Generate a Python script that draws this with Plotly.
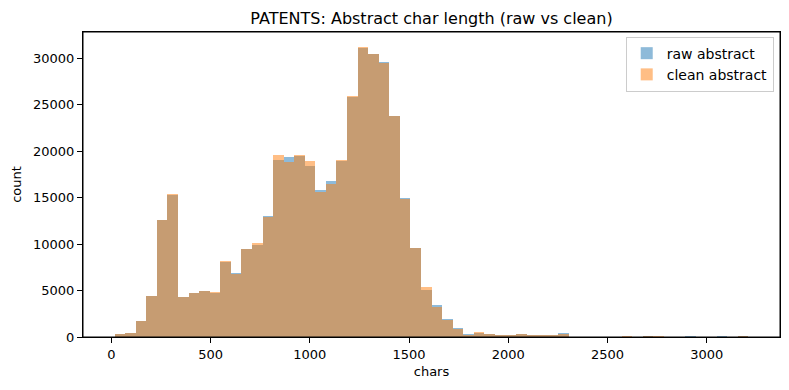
import numpy as np
import plotly.graph_objects as go

# Histogram bins (chars): 60 equal bins
bin_lo = 17.0
bin_hi = 3209.0
n_bins = 60

raw_counts = [320, 430, 1730, 4420, 12620, 15320, 4315, 4745, 4960, 4745,
              8090, 6905, 9490, 9925, 13050, 19090, 19415, 19520, 18445, 15855,
              16830, 18985, 25890, 31175, 30530, 29665, 23840, 14995, 9600, 5070,
              3450, 1900, 935, 320, 395, 320, 215, 110, 320, 215,
              110, 110, 430, 0, 0, 0, 0, 0, 0, 0,
              60, 0, 0, 0, 60, 0, 0, 60, 0, 60]
clean_counts = [320, 430, 1730, 4420, 12620, 15430, 4315, 4745, 4960, 4855,
                8200, 6795, 9490, 10140, 12945, 19630, 18875, 19630, 18985, 15640,
                16505, 19090, 25995, 31285, 30530, 29560, 23840, 14885, 9600, 5395,
                3235, 1800, 825, 215, 500, 320, 140, 110, 320, 215,
                110, 110, 320, 0, 0, 0, 0, 0, 60, 0,
                60, 60, 0, 0, 0, 0, 0, 0, 0, 60]

x_ticks = [0, 500, 1000, 1500, 2000, 2500, 3000]
y_ticks = [0, 5000, 10000, 15000, 20000, 25000, 30000]

edges = np.linspace(bin_lo, bin_hi, n_bins + 1)
centers = (edges[:-1] + edges[1:]) / 2
width = edges[1] - edges[0]

fig = go.Figure()
fig.add_trace(go.Bar(x=centers, y=raw_counts, width=width, name="raw abstract",
                     marker=dict(color="#1f77b4", line=dict(width=0)), opacity=0.5))
fig.add_trace(go.Bar(x=centers, y=clean_counts, width=width, name="clean abstract",
                     marker=dict(color="#ff7f0e", line=dict(width=0)), opacity=0.5))

span = bin_hi - bin_lo
ymax = max(max(raw_counts), max(clean_counts)) * 1.05

fig.update_layout(
    width=789, height=390,
    margin=dict(l=83, r=9, t=32, b=53, autoexpand=False),
    paper_bgcolor="white", plot_bgcolor="white",
    barmode="overlay", bargap=0,
    font=dict(family="DejaVu Sans", color="black"),
    title=dict(text="PATENTS: Abstract char length (raw vs clean)", x=0.5, xref="paper",
               y=1 - 18 / 390, yref="container", yanchor="middle",
               font=dict(size=16, color="black")),
    xaxis=dict(range=[bin_lo - 0.05 * span, bin_hi + 0.05 * span],
               tickmode="array", tickvals=x_ticks, ticktext=[str(v) for v in x_ticks],
               showline=True, linecolor="black", linewidth=1, mirror=True,
               ticks="outside", ticklen=5, tickcolor="black", showgrid=False,
               zeroline=False, automargin=False, tickfont=dict(size=13, color="black"),
               title=dict(text="chars", font=dict(size=13), standoff=6)),
    yaxis=dict(range=[0, ymax],
               tickmode="array", tickvals=y_ticks, ticktext=[str(v) for v in y_ticks],
               showline=True, linecolor="black", linewidth=1, mirror=True,
               ticks="outside", ticklen=5, tickcolor="black", showgrid=False,
               zeroline=False, automargin=False, tickfont=dict(size=13, color="black"),
               title=dict(text="count", font=dict(size=13), standoff=8)),
    legend=dict(x=0.991, y=0.985, xanchor="right", yanchor="top",
                bgcolor="rgba(255,255,255,0.8)", bordercolor="#cccccc", borderwidth=1,
                font=dict(size=14), tracegroupgap=0),
    showlegend=True,
    shapes=[dict(type="rect", xref="paper", yref="paper", x0=0, y0=0, x1=1, y1=1,
                 line=dict(color="black", width=1), layer="above")],
)

fig.write_html("out.html", config={"displayModeBar": False},
               post_script="document.body.style.margin='0';")
